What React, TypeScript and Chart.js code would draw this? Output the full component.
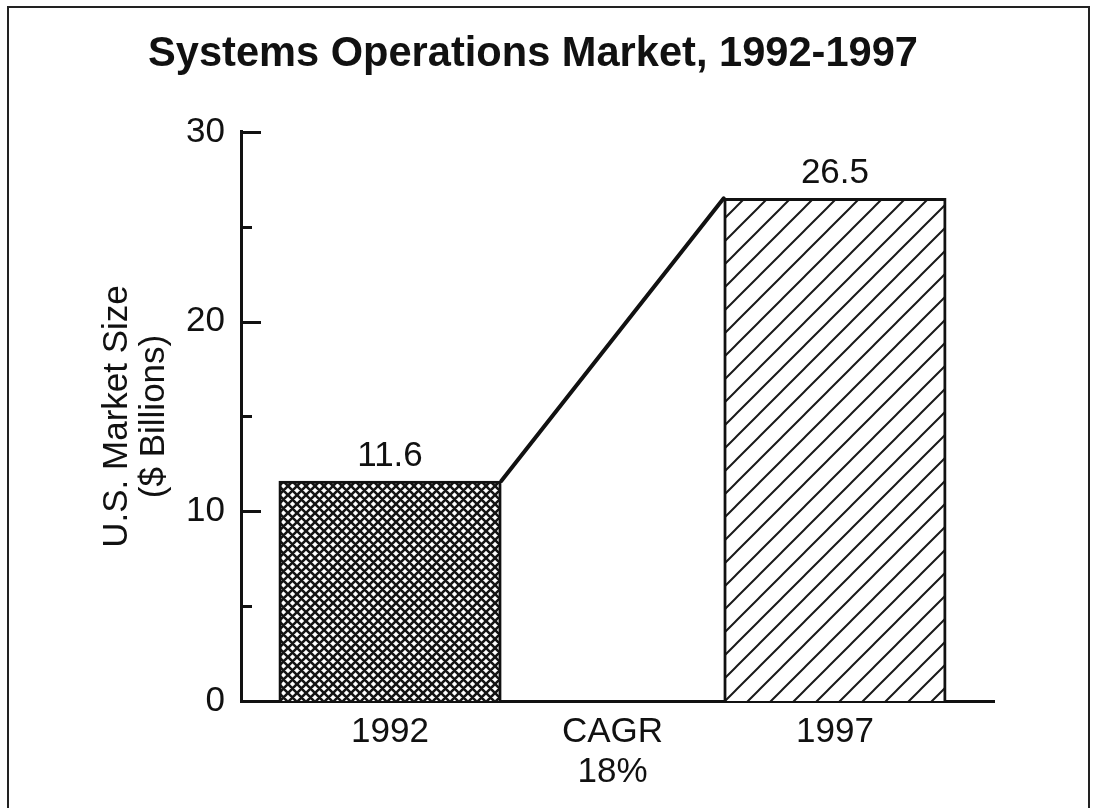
import React, { useEffect, useRef } from 'react';
import { Chart, registerables } from 'chart.js';

Chart.register(...registerables);

const FONT = '"Liberation Sans", Arial, Helvetica, sans-serif';

const TITLE = 'Systems Operations Market, 1992-1997';
const Y_TITLE = ['U.S. Market Size', '($ Billions)'];

const tickPositions = [0, 1, 2];
const tickLabels: (string | string[])[] = ['1992', ['CAGR', '18%'], '1997'];

const barPositions = [0, 2];
const barValues = [11.6, 26.5];
const barLabels = ['11.6', '26.5'];

const majorTicks = [0, 10, 20, 30];
const minorTicks = [5, 15, 25];

function crossHatch(): CanvasPattern | string {
  const s = 9;
  const c = document.createElement('canvas');
  c.width = s;
  c.height = s;
  const g = c.getContext('2d');
  if (!g) return '#888';
  g.fillStyle = '#ffffff';
  g.fillRect(0, 0, s, s);
  g.strokeStyle = '#151515';
  g.lineWidth = 2.6;
  g.beginPath();
  g.moveTo(-2, s + 2); g.lineTo(s + 2, -2);
  g.moveTo(-2, 2); g.lineTo(2, -2);
  g.moveTo(s - 2, s + 2); g.lineTo(s + 2, s - 2);
  g.moveTo(-2, -2); g.lineTo(s + 2, s + 2);
  g.moveTo(s - 2, -2); g.lineTo(s + 2, 2);
  g.moveTo(-2, s - 2); g.lineTo(2, s + 2);
  g.stroke();
  return g.createPattern(c, 'repeat') || '#888';
}

function diagHatch(): CanvasPattern | string {
  const s = 23;
  const c = document.createElement('canvas');
  c.width = s;
  c.height = s;
  const g = c.getContext('2d');
  if (!g) return '#ccc';
  g.fillStyle = '#ffffff';
  g.fillRect(0, 0, s, s);
  g.strokeStyle = '#1a1a1a';
  g.lineWidth = 2;
  g.beginPath();
  g.moveTo(-2, s + 2); g.lineTo(s + 2, -2);
  g.moveTo(-2, 2); g.lineTo(2, -2);
  g.moveTo(s - 2, s + 2); g.lineTo(s + 2, s - 2);
  g.stroke();
  return g.createPattern(c, 'repeat') || '#ccc';
}

const overlayPlugin = {
  id: 'overlay',
  afterDatasetsDraw(chart: any) {
    const ctx = chart.ctx as CanvasRenderingContext2D;
    const bars = chart.getDatasetMeta(0).data as any[];
    ctx.save();
    // connector line between bar tops
    if (bars.length >= 2) {
      const a = bars[0].getProps(['x', 'y', 'width'], true);
      const b = bars[1].getProps(['x', 'y', 'width'], true);
      ctx.strokeStyle = '#111';
      ctx.lineWidth = 4;
      ctx.lineCap = 'round';
      ctx.beginPath();
      ctx.moveTo(a.x + a.width / 2, a.y);
      ctx.lineTo(b.x - b.width / 2, b.y);
      ctx.stroke();
    }
    // value labels
    ctx.fillStyle = '#111';
    ctx.font = `35px ${FONT}`;
    ctx.textAlign = 'center';
    ctx.textBaseline = 'alphabetic';
    bars.forEach((bar: any, i: number) => {
      const p = bar.getProps(['x', 'y'], true);
      ctx.fillText(barLabels[i], p.x, p.y - 15);
    });
    // inward y-axis tick marks
    const ys = chart.scales.y;
    const left = chart.chartArea.left;
    ctx.strokeStyle = '#111';
    ctx.lineWidth = 3;
    ctx.lineCap = 'butt';
    ctx.beginPath();
    majorTicks.forEach((v) => {
      const py = Math.round(ys.getPixelForValue(v)) + 0.5;
      ctx.moveTo(left, py);
      ctx.lineTo(left + 20, py);
    });
    minorTicks.forEach((v) => {
      const py = Math.round(ys.getPixelForValue(v)) + 0.5;
      ctx.moveTo(left, py);
      ctx.lineTo(left + 11, py);
    });
    ctx.stroke();
    ctx.restore();
  },
};

export default function App() {
  const ref = useRef<HTMLCanvasElement | null>(null);

  useEffect(() => {
    if (!ref.current) return;
    const chart = new Chart(ref.current, {
      type: 'bar',
      data: {
        datasets: [
          {
            data: barPositions.map((x, i) => ({ x, y: barValues[i] })),
            backgroundColor: [crossHatch(), diagHatch()] as any,
            borderColor: '#111',
            borderWidth: 3,
            barPercentage: 1,
            categoryPercentage: 1,
          },
        ],
      },
      options: {
        animation: false,
        responsive: false,
        events: [],
        layout: { padding: { left: 72, right: 102, top: 0, bottom: 0 } },
        plugins: {
          legend: { display: false },
          tooltip: { enabled: false },
          title: {
            display: true,
            text: TITLE,
            color: '#111',
            font: { family: FONT, size: 41.6, weight: 'bold', lineHeight: 1.2 },
            padding: { top: 30, bottom: 52 },
          },
        },
        scales: {
          x: {
            type: 'linear',
            min: -0.67,
            max: 2.715,
            offset: false,
            grid: { display: false, drawTicks: false },
            border: { display: true, color: '#111', width: 3 },
            afterBuildTicks: (s: any) => {
              s.ticks = tickPositions.map((v) => ({ value: v }));
            },
            afterFit: (s: any) => {
              s.height = 107;
            },
            ticks: {
              autoSkip: false,
              maxRotation: 0,
              padding: 11,
              color: '#111',
              font: { family: FONT, size: 35, lineHeight: 1.15 },
              callback: (_v: any, i: number) => tickLabels[i],
            },
          },
          y: {
            type: 'linear',
            min: 0,
            max: 30,
            grid: { display: false, drawTicks: false },
            border: { display: true, color: '#111', width: 3 },
            afterBuildTicks: (s: any) => {
              s.ticks = majorTicks.map((v) => ({ value: v }));
            },
            afterFit: (s: any) => {
              s.width = 169;
            },
            ticks: {
              padding: 16,
              color: '#111',
              font: { family: FONT, size: 35 },
            },
            title: {
              display: true,
              text: Y_TITLE,
              color: '#111',
              font: { family: FONT, size: 35, lineHeight: 1.08 },
              padding: { top: 26, bottom: 0 },
            },
          },
        },
      } as any,
      plugins: [overlayPlugin],
    });
    return () => chart.destroy();
  }, []);

  return (
    <div
      style={{
        position: 'absolute',
        left: 0,
        top: 0,
        width: 1096,
        height: 808,
        background: '#ffffff',
        overflow: 'hidden',
      }}
    >
      <div
        style={{
          position: 'absolute',
          left: 7,
          top: 6,
          width: 1083,
          height: 830,
          border: '2px solid #222',
          boxSizing: 'border-box',
        }}
      />
      <canvas
        ref={ref}
        width={1096}
        height={808}
        style={{ position: 'absolute', left: 0, top: 0, display: 'block' }}
      />
    </div>
  );
}
